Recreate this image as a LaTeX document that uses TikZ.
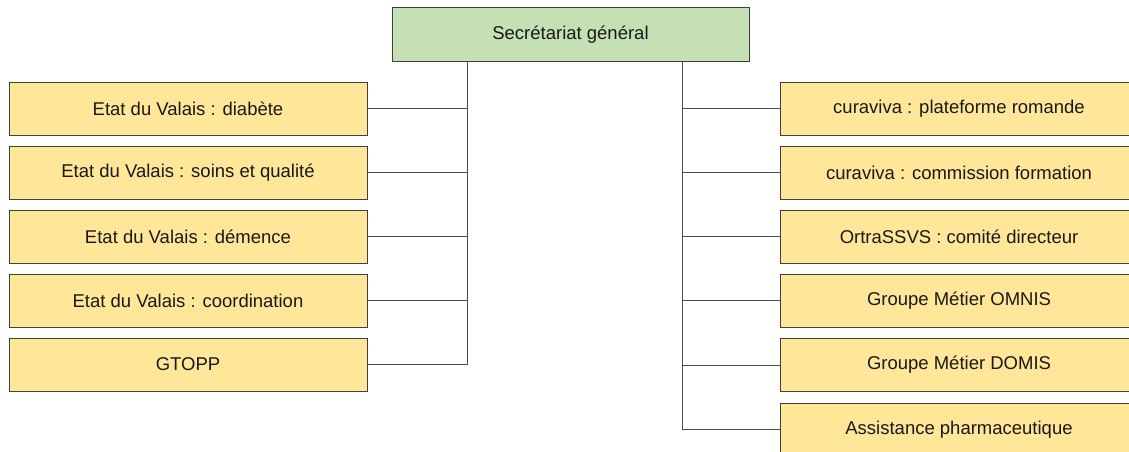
\documentclass[tikz,border=0pt]{standalone}
\usepackage{fontspec}
\setmainfont{Liberation Sans}
\usepackage{xcolor}
\definecolor{sgreen}{HTML}{C5E0B4}
\definecolor{syellow}{HTML}{FFE699}
\definecolor{sborder}{HTML}{3F3F3F}
\definecolor{sline}{HTML}{4D4D4D}
\tikzset{
	orgbox/.style={draw=sborder, line width=1pt, minimum width=358pt, minimum height=53pt, inner sep=0pt,
		font=\fontsize{18.5}{22}\selectfont, text=black!90},
	topbox/.style={orgbox, fill=sgreen, minimum width=357pt, minimum height=54pt},
	subbox/.style={orgbox, fill=syellow},
	link/.style={draw=sline, line width=1pt}
}

\begin{document}
\begin{tikzpicture}[x=1pt, y=-1pt]
	\useasboundingbox[fill=white] (0,0) rectangle (1129,452);
	
	\node[topbox] (sg) at (570.5,35) {Secrétariat général};
	
	\node[subbox] (l1) at (188,108.5) {Etat du Valais : diabète};
	\node[subbox] (l2) at (188,172.5) {Etat du Valais : soins et qualité};
	\node[subbox] (l3) at (188,236.5) {Etat du Valais : démence};
	\node[subbox] (l4) at (188,300.5) {Etat du Valais : coordination};
	\node[subbox] (l5) at (188,364.5) {GTOPP};
	
	\node[subbox] (r1) at (959,108.5) {curaviva : plateforme romande};
	\node[subbox] (r2) at (959,172.5) {curaviva : commission formation};
	\node[subbox] (r3) at (959,236.5) {OrtraSSVS : comité directeur};
	\node[subbox] (r4) at (959,300.5) {Groupe Métier OMNIS};
	\node[subbox] (r5) at (959,365) {Groupe Métier DOMIS};
	\node[subbox] (r6) at (959,429.5) {Assistance pharmaceutique};
	
	\coordinate (ltrunk) at (467,0);
	\coordinate (rtrunk) at (682,0);
	
	\draw[link] (sg.south -| ltrunk) |- (l5.east);
	\foreach \i in {1,...,4}
		\draw[link] (l\i.east) -- (l\i.east -| ltrunk);
	
	\draw[link] (sg.south -| rtrunk) |- (r6.west);
	\foreach \i in {1,...,5}
		\draw[link] (r\i.west) -- (r\i.west -| rtrunk);
\end{tikzpicture}
\end{document}
